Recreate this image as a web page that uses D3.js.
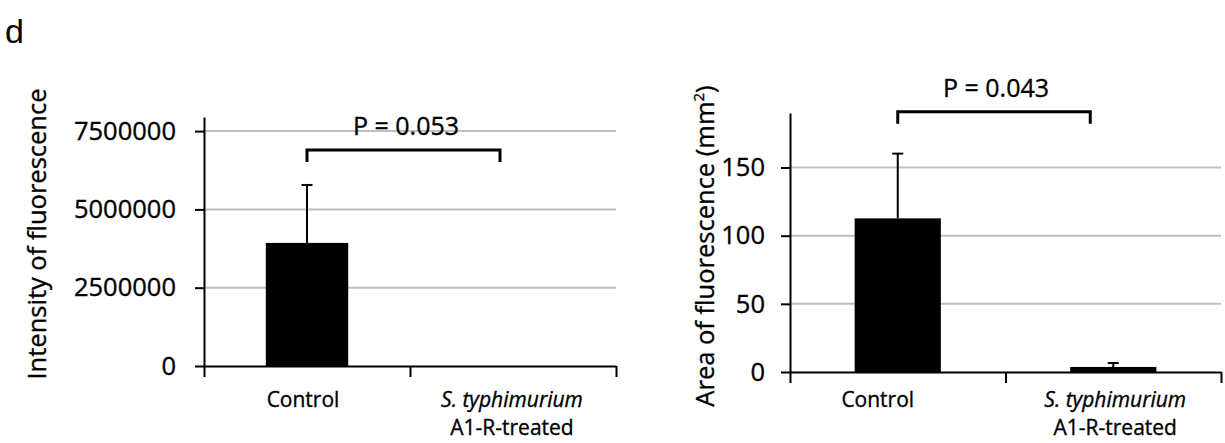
<!DOCTYPE html>
<html>
<head>
<meta charset="utf-8">
<script src="https://cdn.jsdelivr.net/npm/d3@7"></script>
<style>
  body { margin: 0; background: #fff; }
  svg text { font-family: "Open Sans", sans-serif; fill: #000; stroke: #000; stroke-width: 0.35px; }
</style>
</head>
<body>
<svg id="fig" width="1225" height="443"></svg>
<script>
// categories (first line italic, second line plain)
const categories = ["Control", "S. typhimurium A1-R-treated"];
const catLine1 = ["Control", "S. typhimurium"];
const catLine2 = ["", "A1-R-treated"];
const catItalic = [false, true];

// left panel: intensity of fluorescence
const intensityMean = [3930000, 0];
const intensitySD = [1850000, 0];
const intensityTicks = [0, 2500000, 5000000, 7500000];

// right panel: area of fluorescence (mm2)
const areaMean = [112.7, 3.7];
const areaSD = [47.5, 2.9];
const areaTicks = [0, 50, 100, 150];

const pLabels = ["P = 0.053", "P = 0.043"];

const svg = d3.select('#fig');

// panel letter
svg.append('text')
    .attr('x', 5).attr('y', 43)
    .style('font-family', '"Liberation Sans", Arial, sans-serif')
    .style('font-size', '34px')
    .style('stroke-width', 0)
    .text('d');

const panels = [
    { left: 204, right: 616, bottom: 366, top: 117, max: 7950000,
      mean: intensityMean, sd: intensitySD, ticks: intensityTicks,
      tickPad: 19, title: 'Intensity of fluorescence', titleX: 46, titleY: 234,
      p: pLabels[0], bracketY: 6900000, bracketLeg: 12, pY: 7370000, pX: 406,
      bracketInset: 13, labelDx: [-4, -1] },
    { left: 790, right: 1221, bottom: 372, top: 113, max: 190,
      mean: areaMean, sd: areaSD, ticks: areaTicks,
      tickPad: 16, title: 'Area of fluorescence (mm', titleX: 714, titleY: 246,
      p: pLabels[1], bracketY: 191, bracketLeg: 12, pY: 201.5, pX: 996,
      bracketInset: 23, labelDx: [-20, 2] }
];

panels.forEach(function (c, k) {
    const g = svg.append('g');
    const x = d3.scaleBand().domain(categories).range([c.left, c.right]).paddingInner(0).paddingOuter(0);
    const y = d3.scaleLinear().domain([0, c.max]).range([c.bottom, c.top]);
    const bw = x.bandwidth() * 0.4;

    // gridlines
    g.selectAll('.grid')
        .data(c.ticks.filter(t => t > 0))
        .enter().append('line')
        .attr('x1', c.left).attr('x2', c.right)
        .attr('y1', d => y(d)).attr('y2', d => y(d))
        .style('stroke', '#bfbfbf').style('stroke-width', 2);

    // bars
    g.selectAll('.bar')
        .data(c.mean)
        .enter().append('rect')
        .attr('x', (d, i) => x(categories[i]) + x.bandwidth() / 2 - bw / 2)
        .attr('width', bw)
        .attr('y', d => y(d))
        .attr('height', d => y(0) - y(d))
        .style('fill', '#000');

    // error bars (upper only)
    c.mean.forEach(function (m, i) {
        if (c.sd[i] <= 0) return;
        const cx = x(categories[i]) + x.bandwidth() / 2;
        g.append('line')
            .attr('x1', cx).attr('x2', cx)
            .attr('y1', y(m)).attr('y2', y(m + c.sd[i]))
            .style('stroke', '#000').style('stroke-width', 2);
        g.append('line')
            .attr('x1', cx - 5.5).attr('x2', cx + 5.5)
            .attr('y1', y(m + c.sd[i])).attr('y2', y(m + c.sd[i]))
            .style('stroke', '#000').style('stroke-width', 2);
    });

    // y axis
    const yAxis = d3.axisLeft(y).tickValues(c.ticks).tickSize(9).tickSizeOuter(0)
        .tickPadding(c.tickPad).tickFormat(d3.format('d'));
    const ya = g.append('g').attr('transform', `translate(${c.left},0)`).call(yAxis);
    ya.select('.domain').style('stroke', '#000').style('stroke-width', 2);
    ya.selectAll('.tick line').style('stroke', '#000').style('stroke-width', 2);
    ya.selectAll('.tick text').style('font-size', '25.5px').style('font-family', '"Open Sans", sans-serif');

    // x axis line with category boundary ticks
    const xb = d3.scaleLinear().domain([0, categories.length]).range([c.left, c.right]);
    const xAxis = d3.axisBottom(xb).tickValues(d3.range(categories.length + 1)).tickSize(11)
        .tickSizeOuter(0).tickFormat('');
    const xa = g.append('g').attr('transform', `translate(0,${y(0)})`).call(xAxis);
    xa.select('.domain').style('stroke', '#000').style('stroke-width', 2);
    xa.selectAll('.tick line').style('stroke', '#000').style('stroke-width', 2);

    // category labels
    categories.forEach(function (cat, i) {
        const cx = x(cat) + x.bandwidth() / 2 + c.labelDx[i];
        g.append('text')
            .attr('x', cx).attr('y', 407)
            .attr('text-anchor', 'middle')
            .style('font-size', '21px')
            .style('font-style', catItalic[i] ? 'italic' : 'normal')
            .text(catLine1[i]);
        if (catLine2[i]) {
            g.append('text')
                .attr('x', cx).attr('y', 435)
                .attr('text-anchor', 'middle')
                .style('font-size', '21px')
                .text(catLine2[i]);
        }
    });

    // y title
    const title = g.append('text')
        .attr('transform', `translate(${c.titleX},${c.titleY}) rotate(-90)`)
        .attr('text-anchor', 'middle')
        .style('font-size', '25.5px')
        .text(c.title);
    if (k === 1) {
        title.append('tspan').attr('dy', -10).style('font-size', '15px').text('2');
        title.append('tspan').attr('dy', 10).text(')');
    }

    // significance bracket
    const x0 = x(categories[0]) + x.bandwidth() / 2;
    const x1 = x(categories[1]) + x.bandwidth() / 2 - c.bracketInset;
    const by = y(c.bracketY);
    g.append('path')
        .attr('d', `M${x0},${by + c.bracketLeg}V${by}H${x1}V${by + c.bracketLeg}`)
        .style('fill', 'none').style('stroke', '#000').style('stroke-width', 3);
    g.append('text')
        .attr('x', c.pX).attr('y', y(c.pY))
        .attr('text-anchor', 'middle')
        .style('font-size', '25px')
        .text(c.p);
});
</script>
</body>
</html>
